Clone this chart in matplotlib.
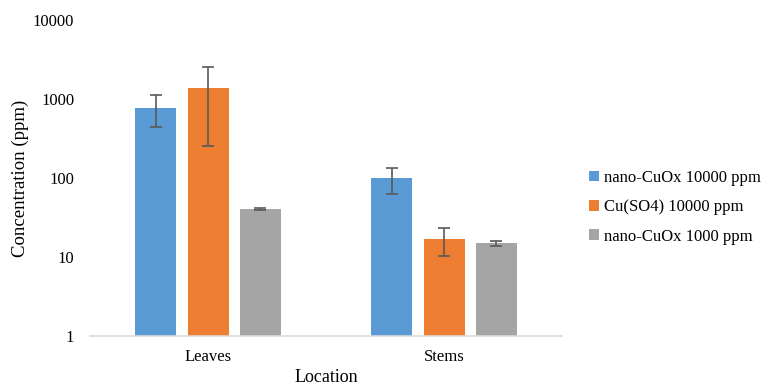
import numpy as np
import matplotlib
matplotlib.use("Agg")
from matplotlib import pyplot as plt

plt.rcParams['font.family'] = ['Liberation Serif', 'DejaVu Serif']

# copper concentration by plant part (ppm)
locations = ['Leaves', 'Stems']
series = ['nano-CuOx 10000 ppm', 'Cu(SO4) 10000 ppm', 'nano-CuOx 1000 ppm']
values = [
    [776, 99],
    [1366, 16.7],
    [40.5, 14.9],
]
err_low = [
    [330, 37],
    [1112, 6.3],
    [1.0, 1.0],
]
err_high = [
    [359, 36],
    [1150, 6.3],
    [1.0, 1.2],
]
colors = ['#5B9BD5', '#ED7D31', '#A5A5A5']

fig = plt.figure(figsize=(7.7, 3.88), dpi=100)
ax = fig.add_axes([0.117, 0.134, 0.613, 0.814])

x = np.arange(len(locations))
width = 0.174
step = 0.221
for i, name in enumerate(series):
    pos = x + (i - 1) * step
    ax.bar(pos, values[i], width, color=colors[i], label=name, zorder=2)
    ax.errorbar(pos, values[i], yerr=[err_low[i], err_high[i]], fmt='none',
                ecolor='#595959', elinewidth=1.2, capsize=4, capthick=1.2, zorder=3)

ax.set_yscale('log')
ax.set_ylim(1, 10000)
ax.set_xlim(-0.5, 1.5)
ax.set_xticks(x)
ax.set_xticklabels(locations)
ax.set_yticks([1, 10, 100, 1000, 10000])
ax.set_yticklabels(['1', '10', '100', '1000', '10000'])
ax.yaxis.set_minor_locator(matplotlib.ticker.NullLocator())
ax.tick_params(axis='both', length=0, labelsize=12, colors='#000000')
ax.tick_params(axis='x', pad=9)
ax.tick_params(axis='y', pad=11.5)

for side in ['top', 'right', 'left']:
    ax.spines[side].set_visible(False)
ax.spines['bottom'].set_color('#D9D9D9')
ax.spines['bottom'].set_linewidth(1.2)

ax.set_xlabel('Location', fontsize=13, labelpad=3.5)
ax.set_ylabel('Concentration (ppm)', fontsize=13.5, labelpad=3)

fig.legend(loc='center left', bbox_to_anchor=(0.745, 0.466), frameon=False,
           fontsize=12, handlelength=0.6, handleheight=0.6, handletextpad=0.3,
           labelspacing=0.8)

fig.savefig('out.png', dpi=100)
